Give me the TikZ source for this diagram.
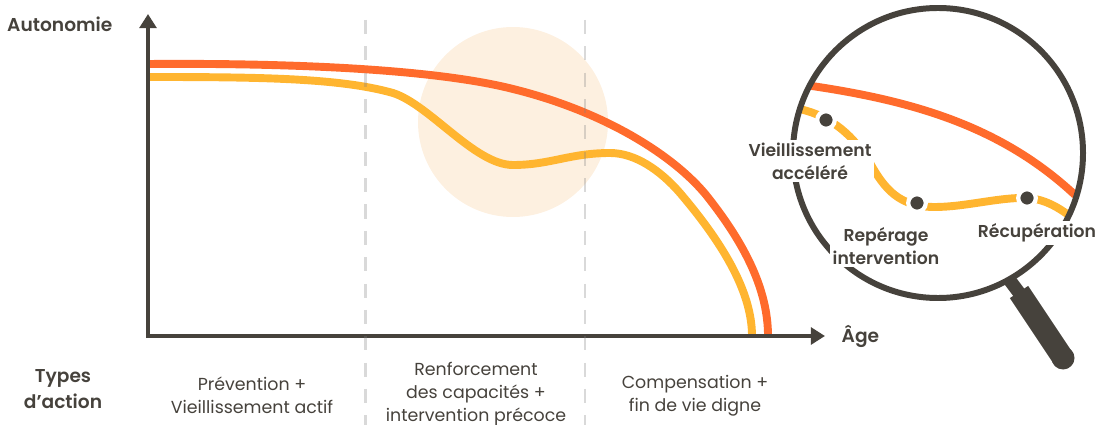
\documentclass[tikz,border=0pt]{standalone}
\usepackage{fontspec}
\setmainfont{Poppins}
\newfontfamily\medfont{Poppins}[UprightFont=* SemiBold]
\usetikzlibrary{arrows.meta}
\definecolor{MyDark}{RGB}{70, 66, 60}
\definecolor{MyOrange}{RGB}{255, 107, 44}
\definecolor{MyYellow}{RGB}{255, 181, 48}
\definecolor{MyPeach}{RGB}{253, 240, 224}
\tikzset{
  axisline/.style={MyDark, line width=2.6pt, -{Triangle[length=8pt,width=9.5pt]}},
  phase/.style={gray, opacity=0.3, line width=1.2pt, dash pattern=on 8pt off 7pt},
  curve/.style={line width=4.5pt, line cap=butt},
  dot/.style={circle, fill=MyDark, draw=white, line width=2.4pt, inner sep=0pt, minimum size=10pt},
  action/.style={MyDark, align=center, font=\fontsize{9.9}{13}\selectfont},
  title/.style={MyDark, align=center, font=\fontsize{10.6}{14.7}\medfont},
  zoomlabel/.style={MyDark, align=center, fill=white, inner sep=1.5pt, font=\fontsize{9.8}{13}\medfont},
}
\begin{document}
\begin{tikzpicture}[x=0.02cm, y=-0.02cm]
\useasboundingbox (0,0) rectangle (1097,425);
\fill[MyPeach] (513,122) circle (95);
% main curves
\draw[curve, MyOrange] (148,64) .. controls (280,63) and (430,68) .. (513,89)
  .. controls (610,113) and (680,160) .. (710,200)
  .. controls (745,245) and (768,290) .. (768,336);
\draw[curve, MyYellow] (148,77) .. controls (260,77) and (340,78) .. (393,93)
  .. controls (430,105) and (475,165) .. (513,165)
  .. controls (550,165) and (570,153) .. (610,153)
  .. controls (635,153) and (660,170) .. (680,193)
  .. controls (720,240) and (752,290) .. (752,336);
\draw[axisline] (148,338) -- (148,14);
\draw[axisline] (146,336) -- (825,336);
\foreach \x in {365.5, 585}{
\draw[phase] (\x,20) -- (\x,425);
}
% magnifier
\draw[MyDark, line width=7.5pt] (1005,274) -- (1020,294);
\draw[MyDark, line width=12.5pt] (1019,292) -- (1063,358);
\fill[MyDark] (1063,358) circle (11.5);
\fill[white] (938,153) circle (145);
\begin{scope}
\clip (938,153) circle (143);
\draw[curve, MyOrange] (805,85) .. controls (910,100) and (1000,125) .. (1075,195);
\draw[curve, MyYellow] (795,108) .. controls (826,114) and (850,130) .. (870,163)
  .. controls (885,190) and (900,207) .. (935,207)
  .. controls (965,207) and (1000,197) .. (1027,198)
  .. controls (1045,199) and (1060,208) .. (1075,220);
\end{scope}
\draw[MyDark, line width=3.4pt] (938,153) circle (145);
\node[dot] (accel) at (826,120) {};
\node[dot] (reperage) at (917,203) {};
\node[dot] (recup) at (1027,198) {};
% labels
\node[zoomlabel] (accelTxt) at (810,161) {Vieillissement\\accéléré};
\node[zoomlabel] (reperageTxt) at (886,246) {Repérage\\intervention};
\node[zoomlabel] (recupTxt) at (1037,233) {Récupération};
\node[title, anchor=west] (autoTxt) at (1,24) {Autonomie};
\node[title, anchor=west] (ageTxt) at (835.5,336) {Âge};
\node[title] (typesTxt) at (63,389) {Types\\d’action};
\node[action] (prevTxt) at (252,395.5) {Prévention +\\Vieillissement actif};
\node[action] (renfTxt) at (476,394) {Renforcement\\des capacités +\\intervention précoce};
\node[action] (compTxt) at (695,395.5) {Compensation +\\fin de vie digne};
\end{tikzpicture}
\end{document}
